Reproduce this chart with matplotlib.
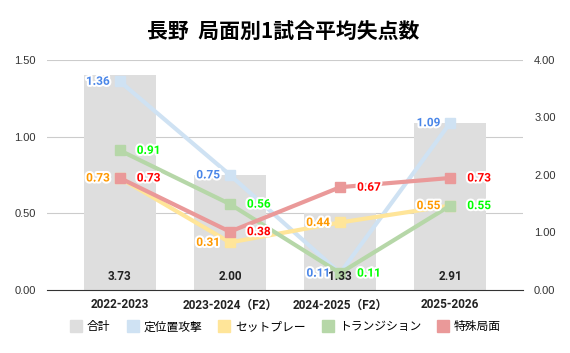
import matplotlib.pyplot as plt
import matplotlib.patheffects as pe
from matplotlib.lines import Line2D

plt.rcParams['font.family'] = ['Roboto', 'Noto Sans CJK JP', 'DejaVu Sans']

# data
seasons = ['2022-2023', '2023-2024（F2）', '2024-2025（F2）', '2025-2026']
total = [3.73, 2.00, 1.33, 2.91]
set_attack = [1.36, 0.75, 0.11, 1.09]
set_piece = [0.73, 0.31, 0.44, 0.55]
transition = [0.91, 0.56, 0.11, 0.55]
special = [0.73, 0.38, 0.67, 0.73]

series = [
    ('定位置攻撃', set_attack, '#cfe2f3', '#4a86e8', 'left'),
    ('セットプレー', set_piece, '#ffe599', '#ff9900', 'left'),
    ('トランジション', transition, '#b6d7a8', '#00ff00', 'right'),
    ('特殊局面', special, '#ea9999', '#ff0000', 'right'),
]

fig = plt.figure(figsize=(5.7, 3.53), dpi=100)
ax = fig.add_axes([0.0825, 0.1785, 0.835, 0.652])
ax2 = ax.twinx()
x = range(len(seasons))

# bars on the right scale (0-4)
ax.bar(x, total, width=0.65, color='#dedede', zorder=2)
ax.set_ylim(0, 4)
ax.set_xlim(-0.66, 3.66)
ax.set_yticks([0, 1, 2, 3, 4])
ax.set_yticklabels(['%.2f' % v for v in [0, 1, 2, 3, 4]], fontsize=8, color='#333333',
                   family='Liberation Sans')
# grid lines follow the left scale (0.5 steps)
for g in [0.5, 1.0, 1.5]:
    ax.axhline(g * 4 / 1.5, color='#cccccc', lw=0.8, zorder=1)
ax.set_xticks(list(x))
ax.set_xticklabels(seasons, fontsize=8.5, fontweight='bold', color='#222222')
ax.tick_params(axis='x', length=0, pad=6)
for s in ['top', 'left', 'right']:
    ax.spines[s].set_visible(False)
ax.spines['bottom'].set_color('#333333')
ax.spines['bottom'].set_zorder(5)

# lines on the left scale (0-1.5)
ax2.set_ylim(0, 1.5)
ax2.set_yticks([0, 0.5, 1.0, 1.5])
ax2.set_yticklabels(['%.2f' % v for v in [0, 0.5, 1.0, 1.5]], fontsize=8, color='#333333',
                    family='Liberation Sans')
for s in ax2.spines.values():
    s.set_visible(False)

# twinx moves the ticks, so put them where the reference has them
ax.yaxis.tick_right()
ax2.yaxis.tick_left()
ax.tick_params(axis='y', length=0, pad=8)
ax2.tick_params(axis='y', length=0, pad=8)

halo = [pe.withStroke(linewidth=3, foreground='white')]
for name, vals, col, lcol, side in series:
    ax2.plot(x, vals, color=col, lw=3, marker='s', markersize=6.5, zorder=3)
    for i, v in enumerate(vals):
        if side == 'left':
            ax2.annotate('%.2f' % v, (i, v), xytext=(-10, 0), textcoords='offset pixels',
                         ha='right', va='center', fontsize=8.5, fontweight='bold',
                         color=lcol, path_effects=halo, zorder=4)
        else:
            ax2.annotate('%.2f' % v, (i, v), xytext=(17, 0), textcoords='offset pixels',
                         ha='left', va='center', fontsize=8.5, fontweight='bold',
                         color=lcol, path_effects=halo, zorder=4)

# bar totals sit on top of the lines
for i, v in enumerate(total):
    ax2.annotate('%.2f' % v, (i, 0), xytext=(0, 13), textcoords='offset pixels',
                 ha='center', va='center', fontsize=8.5, fontweight='bold', color='#222222', zorder=5)

fig.suptitle('長野  局面別1試合平均失点数', x=0.497, y=0.94, fontsize=15, fontweight='bold',
             family=['Noto Sans CJK JP'])

handles = [Line2D([], [], marker='s', ls='', markersize=8, color='#dedede')]
handles += [Line2D([], [], marker='s', ls='', markersize=8, color=s[2]) for s in series]
labels = ['合計'] + [s[0] for s in series]
fig.legend(handles, labels, loc='center', bbox_to_anchor=(0.5, 0.074), ncol=5, frameon=False,
           handletextpad=0.3, columnspacing=1.3, handlelength=1.2,
           prop={'family': 'Noto Sans CJK JP', 'size': 8.5})

fig.savefig('out.png', dpi=100)
